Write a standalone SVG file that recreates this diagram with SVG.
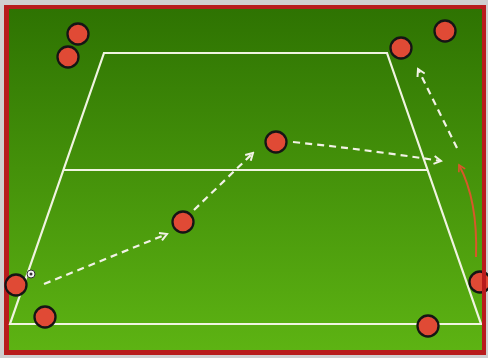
<svg xmlns="http://www.w3.org/2000/svg" width="488" height="358" viewBox="0 0 488 358">
<defs>
<linearGradient id="g" x1="0" y1="0" x2="0" y2="1">
<stop offset="0" stop-color="#2e7302"/>
<stop offset="1" stop-color="#5db313"/>
</linearGradient>
<marker id="ah" viewBox="0 0 10 10" refX="8" refY="5" markerWidth="10" markerHeight="10" markerUnits="userSpaceOnUse" orient="auto">
<path d="M1,1 L8,5 L1,9" fill="none" stroke="#f2f2e6" stroke-width="2"/>
</marker>
<marker id="ar" viewBox="0 0 10 10" refX="8" refY="5" markerWidth="9" markerHeight="9" markerUnits="userSpaceOnUse" orient="auto">
<path d="M1,1 L8,5 L1,9" fill="none" stroke="#d8582a" stroke-width="1.8"/>
</marker>
</defs>
<style>
.line{fill:none;stroke:#f0f4e0;stroke-width:2.2}
.pass{fill:none;stroke:#f2f2e6;stroke-width:2.2;stroke-dasharray:7,5;marker-end:url(#ah)}
.run{fill:none;stroke:#d8582a;stroke-width:2;marker-end:url(#ar)}
.p{fill:#e04a35;stroke:#151515;stroke-width:2.3}
</style>
<rect x="0" y="0" width="488" height="358" fill="#cfcfcf"/>
<rect x="4" y="5" width="482" height="350" fill="#b81c1c"/>
<rect x="9" y="9" width="473" height="341" fill="url(#g)"/>
<g id="field">
<path class="line" d="M104,53 L387,53 L481,324 L10,324 Z"/>
<line class="line" x1="63" y1="170" x2="428" y2="170"/>
</g>
<g id="connectors">
<path class="pass" d="M44,284 L167,234"/>
<path class="pass" d="M194,210 L253,153"/>
<path class="pass" d="M293,142 Q370,150 441,161"/>
<path class="pass" d="M457,148 L418,69"/>
<path class="run" d="M476,257 Q478,200 459,165"/>
</g>
<g id="ball">
<circle cx="31" cy="274" r="4" fill="#f4f4f4" stroke="#333" stroke-width="1"/>
<circle cx="31" cy="274" r="1.5" fill="#333"/>
</g>
<g id="p1"><circle class="p" cx="78" cy="34" r="10.5"/></g>
<g id="p2"><circle class="p" cx="68" cy="57" r="10.5"/></g>
<g id="p3"><circle class="p" cx="401" cy="48" r="10.5"/></g>
<g id="p4"><circle class="p" cx="445" cy="31" r="10.5"/></g>
<g id="p5"><circle class="p" cx="276" cy="142" r="10.5"/></g>
<g id="p6"><circle class="p" cx="183" cy="222" r="10.5"/></g>
<g id="p7"><circle class="p" cx="16" cy="285" r="10.5"/></g>
<g id="p8"><circle class="p" cx="45" cy="317" r="10.5"/></g>
<g id="p9"><circle class="p" cx="428" cy="326" r="10.5"/></g>
<g id="p10"><circle class="p" cx="480" cy="282" r="10.5"/></g>
<rect x="482" y="5" width="4" height="350" fill="#b81c1c"/>
</svg>
